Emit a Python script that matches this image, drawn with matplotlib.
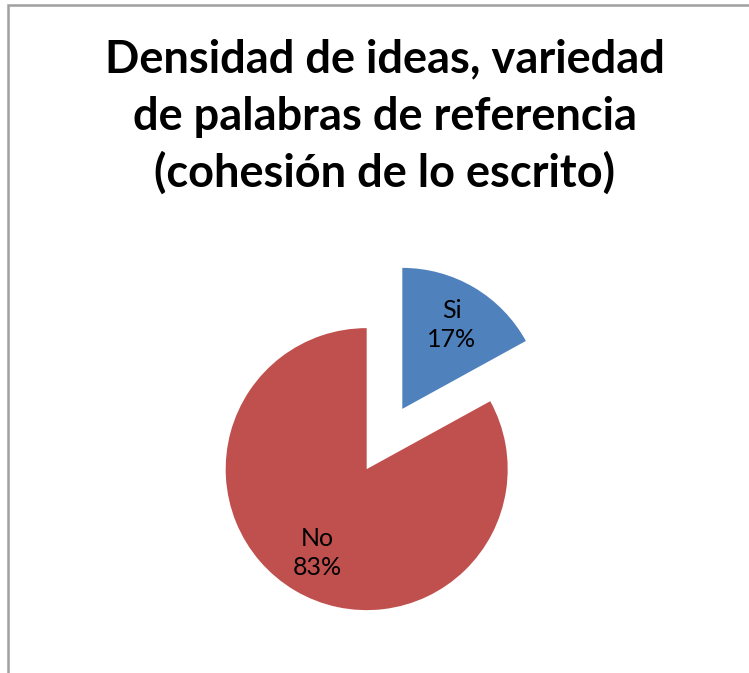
import matplotlib
matplotlib.use("Agg")
import matplotlib.pyplot as plt
from matplotlib.patches import Rectangle

# ---------------- data ----------------
categories = ["Si", "No"]
percentages = [17, 83]
slice_colors = ["#4F81BD", "#C0504D"]
title_lines = ["Densidad de ideas, variedad",
               "de palabras de referencia",
               "(cohesión de lo escrito)"]

W, H = 749, 673
fig = plt.figure(figsize=(W / 100, H / 100), dpi=100)
fig.patch.set_facecolor("white")

# chart frame (right / bottom edges are cut off in the original)
fig.patches.append(Rectangle((8 / W, -0.05), 1.1, (H - 5) / H + 0.05,
                             transform=fig.transFigure, fill=False,
                             edgecolor="#a0a0a0", linewidth=1.8))

ax = fig.add_axes([0, 0, 1, 1])
ax.set_xlim(0, W)
ax.set_ylim(0, H)
ax.set_aspect("equal")
ax.axis("off")

label_iter = iter(categories)
wedges, texts, autotexts = ax.pie(
    percentages,
    colors=slice_colors,
    startangle=90,
    counterclock=False,
    explode=[35, 35],  # pie explode is in data units here (pixels)
    radius=141,
    center=(384.5, H - 439),
    autopct=lambda p: f"{next(label_iter)}\n{p:.0f}%",
    pctdistance=0.69,
    textprops=dict(fontsize=18, family="Lato", color="black", linespacing=1.3),
    frame=False,
)
ax.set_xlim(0, W)
ax.set_ylim(0, H)

# title, one line at a time so baselines match
for i, line in enumerate(title_lines):
    fig.text(385 / W, 1 - (72 + 57.5 * i) / H, line, ha="center", va="baseline",
             fontsize=32.5, fontweight="bold", family="Lato")

fig.savefig("out.png", dpi=100, facecolor="white")
